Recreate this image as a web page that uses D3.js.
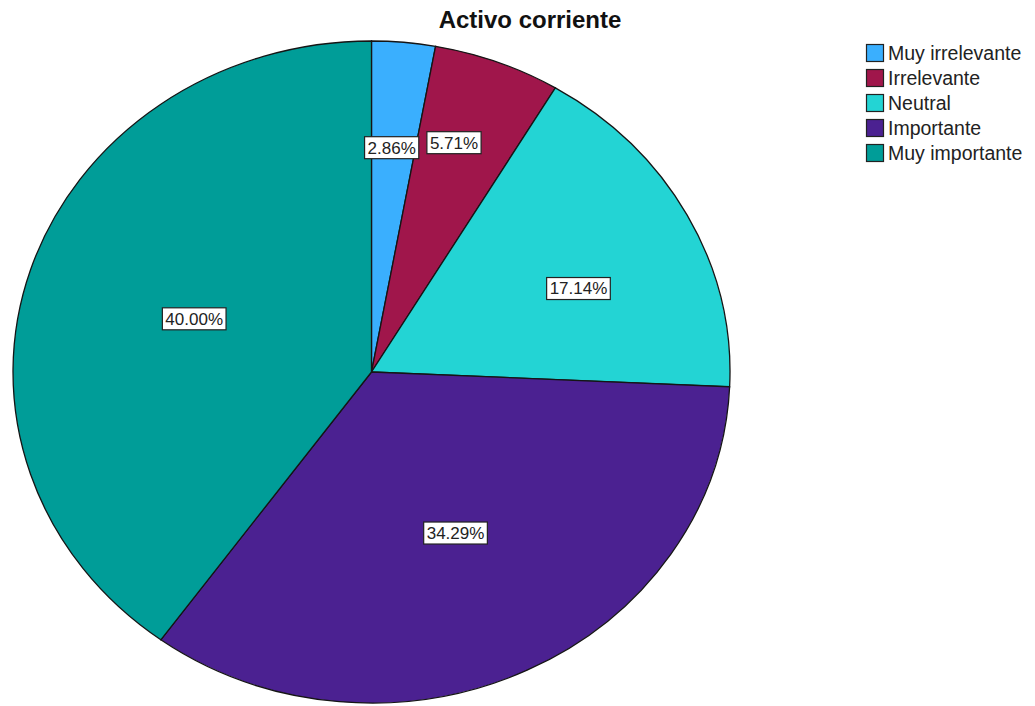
<!DOCTYPE html>
<html><head><meta charset="utf-8">
<script src="https://cdn.jsdelivr.net/npm/d3@7/dist/d3.min.js"></script>
<style>body{margin:0;background:#fff}svg{display:block}</style>
</head><body>
<svg id="c" width="1035" height="706"></svg>
<script>
const categories = ["Muy irrelevante","Irrelevante","Neutral","Importante","Muy importante"];
const values = [2.86, 5.71, 17.14, 34.29, 40.00];
const labels = ["2.86%","5.71%","17.14%","34.29%","40.00%"];
const colors = ["#3aaffe","#a0164b","#23d4d4","#4b2191","#009d98"];
// label placement style (radius fraction, angle nudge in degrees)
const labelRadiusFactor = [0.68, 0.73, 0.63, 0.54, 0.52];
const labelAngleNudge = [-0.4, -2.2, 4.7, 0, 0];
const title = "Activo corriente";

const svg = d3.select("#c");
const cx = 371.5, cy = 372, rx = 358.5, ry = 331;
const font = "'Liberation Sans', Arial, sans-serif";

svg.append("text").attr("x", 530).attr("y", 28).attr("text-anchor","middle")
  .attr("font-family", font).attr("font-weight","bold").attr("font-size", 24)
  .attr("fill","#111").text(title);

const pie = d3.pie().sort(null).value(d => d)(values);
const arc = d3.arc().innerRadius(0).outerRadius(rx);
const g = svg.append("g").attr("transform", `translate(${cx},${cy}) scale(1,${ry/rx})`);
g.selectAll("path").data(pie).join("path")
  .attr("d", arc).attr("fill", (d,i) => colors[i])
  .attr("stroke", "#151515").attr("stroke-width", 1.3)
  .attr("vector-effect","non-scaling-stroke");

const lg = svg.append("g");
pie.forEach((d,i) => {
  const r = rx * labelRadiusFactor[i];
  const ang = (d.startAngle + d.endAngle) / 2 + labelAngleNudge[i] * Math.PI / 180;
  const x = cx + r * Math.sin(ang), y = cy - r * Math.cos(ang) * ry / rx;
  const t = lg.append("text").attr("x", x).attr("y", y).attr("dy","0.35em")
    .attr("text-anchor","middle").attr("font-family", font).attr("font-size", 17)
    .attr("fill","#222").text(labels[i]);
  const bb = t.node().getBBox();
  lg.insert("rect", () => t.node()).attr("x", bb.x - 3).attr("y", y - 11)
    .attr("width", bb.width + 6).attr("height", 22)
    .attr("fill","#fff").attr("stroke","#222").attr("stroke-width",1.2);
});

const leg = svg.append("g");
categories.forEach((c,i) => {
  const y0 = 44 + i * 25;
  leg.append("rect").attr("x", 866.5).attr("y", y0 + 0.5).attr("width", 17).attr("height", 17)
    .attr("fill", colors[i]).attr("stroke","#222").attr("stroke-width",1.2);
  leg.append("text").attr("x", 888).attr("y", y0 + 9).attr("dy","0.35em")
    .attr("font-family", font).attr("font-size", 19.5).attr("fill","#222").text(c);
});
</script>
</body></html>
